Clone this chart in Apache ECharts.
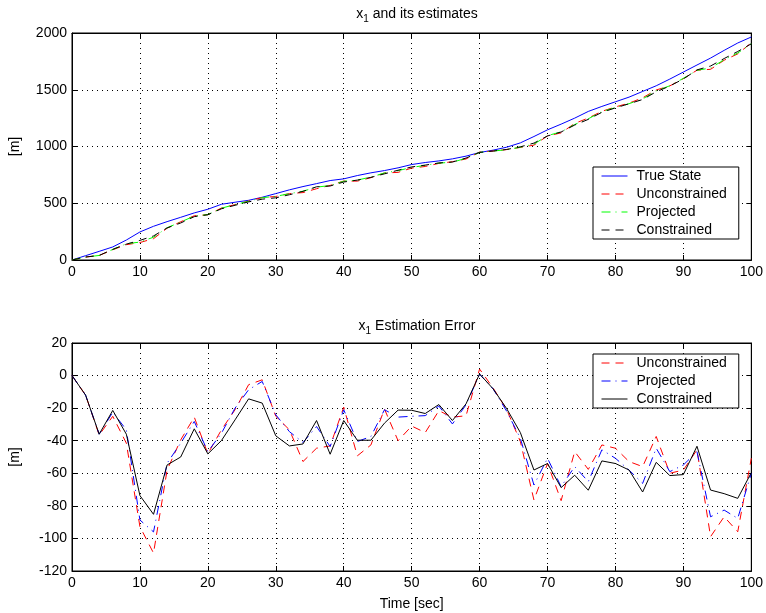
<!DOCTYPE html>
<html>
<head>
<meta charset="utf-8">
<title>x1 and its estimates</title>
<script src="https://cdn.jsdelivr.net/npm/echarts@6/dist/echarts.min.js"></script>
<style>
  html, body { margin: 0; padding: 0; background: #fff; }
  #chart { width: 766px; height: 613px; }
</style>
</head>
<body>
<div id="chart"></div>
<script>
// time stamps (sec)
const time = [0, 2, 4, 6, 8, 10, 12, 14, 16, 18, 20, 22, 24, 26, 28, 30, 32, 34, 36, 38, 40,
  42, 44, 46, 48, 50, 52, 54, 56, 58, 60, 62, 64, 66, 68, 70, 72, 74, 76, 78, 80,
  82, 84, 86, 88, 90, 92, 94, 96, 98, 100]

// top plot: x1 and its estimates [m]
const trueState = [0, 38, 76, 115, 176, 247, 297, 338, 376, 415, 447, 491, 509, 526, 553, 585, 618, 647, 673, 700, 715,
  744, 768, 788, 812, 841, 859, 873, 891, 915, 947, 968, 994, 1032, 1088, 1147, 1197, 1250, 1309, 1353, 1394,
  1435, 1485, 1535, 1594, 1656, 1718, 1779, 1847, 1912, 1965]
const unconstrained = [0, 26, 40, 90, 135, 154, 188, 280, 337, 390, 399, 458, 488, 520, 550, 560, 585, 594, 628, 657, 696,
  695, 725, 767, 772, 810, 824, 851, 866, 890, 951, 960, 973, 992, 1012, 1093, 1120, 1203, 1251, 1310, 1349,
  1382, 1429, 1498, 1534, 1598, 1672, 1680, 1760, 1816, 1914]
const projected = [0, 26, 40, 93, 143, 158, 201, 284, 335, 387, 400, 456, 489, 517, 549, 561, 584, 606, 642, 656, 694,
  704, 731, 767, 787, 816, 834, 854, 861, 897, 948, 960, 972, 994, 1021, 1096, 1129, 1194, 1244, 1307, 1343,
  1377, 1419, 1490, 1535, 1601, 1671, 1692, 1764, 1824, 1905]
const constrained = [0, 26, 40, 94, 140, 173, 212, 283, 326, 382, 399, 451, 482, 512, 536, 548, 575, 605, 645, 652, 687,
  704, 728, 759, 791, 820, 836, 855, 863, 898, 948, 960, 974, 997, 1030, 1093, 1128, 1189, 1239, 1301, 1340,
  1377, 1414, 1482, 1533, 1595, 1675, 1709, 1775, 1837, 1905]

// bottom plot: estimation error [m]
const errUnconstrained = [0, -12, -36.5, -25, -41.5, -92.8, -109, -58, -39.5, -25.5, -48, -33.3, -21, -5.6, -2.6, -25, -33.3, -52.8, -44.6, -43.2, -19.4,
  -49.3, -42.6, -20.6, -40, -31, -35, -21.6, -25.5, -24.7, 4, -7.7, -21, -40.5, -76.4, -54, -76.8, -46.7, -57.6, -42.6, -44.6,
  -52.8, -55.9, -37.4, -60, -58, -45.6, -98.9, -86.7, -95.9, -50.8]
const errProjected = [0, -12, -36, -22.5, -33.3, -88.7, -96, -53.8, -41.5, -28.2, -46.7, -35.4, -20, -8.7, -3.6, -24.1, -34.4, -41.1, -31.3, -43.6, -21,
  -40.5, -37.4, -21, -25.5, -25, -24.6, -18.7, -29.7, -18, 0.8, -8.2, -22, -38.5, -67.2, -50.8, -68.2, -55.9, -65.1, -45.6, -50.8,
  -58, -66.2, -44.6, -59, -54.9, -46.7, -86.7, -82.6, -87.7, -60]
const errConstrained = [0, -12, -36, -21.4, -36, -73.7, -85.2, -54.9, -50, -32.7, -48.1, -39.9, -27.2, -14.3, -16.9, -37, -43.2, -42, -27.6, -48.3, -27.6,
  -39.7, -39.7, -29.2, -21.2, -21.3, -23.3, -17.8, -27.6, -17.4, 1, -8.2, -20.4, -35, -58, -54, -68.8, -61.2, -70.4, -52.4, -54,
  -58, -71.5, -53.3, -61.4, -60.8, -43.4, -70.3, -72.5, -75.4, -59.6]

const FONT = 'Liberation Sans'
const FS = 14
const pairs = arr => time.map((t, i) => [t, arr[i]])

const chart = echarts.init(document.getElementById('chart'))

const gridLine = { show: true, lineStyle: { color: '#000', width: 1, type: [1, 4] } }
const axLine = { show: true, onZero: false, lineStyle: { color: '#000', width: 1 } }
const tick = { show: true, inside: true, length: 5, lineStyle: { color: '#000' } }
const lbl = { color: '#000', fontFamily: FONT, fontSize: FS }

function xAx(grid, pos, main) {
  return {
    type: 'value', gridIndex: grid, position: pos, min: 0, max: 100, interval: 10,
    axisLine: axLine, axisTick: tick,
    axisLabel: main ? Object.assign({ margin: 5 }, lbl) : { show: false },
    splitLine: main ? gridLine : { show: false }
  }
}
function yAx(grid, pos, main, min, max, step) {
  return {
    type: 'value', gridIndex: grid, position: pos, min: min, max: max, interval: step,
    axisLine: axLine, axisTick: tick,
    axisLabel: main ? Object.assign({ margin: 5, formatter: v => String(v) }, lbl) : { show: false },
    splitLine: main ? gridLine : { show: false },
    name: main ? '[m]' : '', nameLocation: 'middle', nameGap: 50, nameRotate: 90,
    nameTextStyle: { color: '#000', fontFamily: FONT, fontSize: FS }
  }
}

const titleRich = {
  a: { fontFamily: FONT, fontSize: FS, fontWeight: 'normal', color: '#000' },
  s: { fontFamily: FONT, fontSize: 10, fontWeight: 'normal', color: '#000', padding: [10, 0, 0, 0] }
}

function line(name, data, color, type, xi, yi) {
  return {
    name: name, type: 'line', xAxisIndex: xi, yAxisIndex: yi, data: pairs(data),
    showSymbol: false, symbol: 'none', animation: false,
    lineStyle: { color: color, width: 1, type: type }, itemStyle: { color: color }
  }
}

const dash = [8, 6]
const dashDot = [9, 5, 1, 5]

const legendBase = {
  orient: 'vertical', left: 593,
  backgroundColor: '#fff', borderColor: '#000', borderWidth: 1, padding: [2, 12, 2, 8],
  itemWidth: 26, itemHeight: 14, itemGap: 4,
  itemStyle: { opacity: 0 },
  textStyle: { color: '#000', fontFamily: FONT, fontSize: FS, lineHeight: 14, padding: [0, 0, 0, 4] },
  selectedMode: false
}

chart.setOption({
  backgroundColor: '#fff',
  animation: false,
  title: [
    { text: '{a|x}{s|1}{a| and its estimates}', left: 412, top: -1, textAlign: 'center', textStyle: { fontWeight: 'normal', rich: titleRich } },
    { text: '{a|x}{s|1}{a| Estimation Error}', left: 412, top: 311, textAlign: 'center', textStyle: { fontWeight: 'normal', rich: titleRich } }
  ],
  grid: [
    { left: 72, right: 13, top: 33, height: 227, show: true, borderColor: '#000', borderWidth: 1, backgroundColor: 'transparent' },
    { left: 72, right: 13, top: 343, height: 228, show: true, borderColor: '#000', borderWidth: 1, backgroundColor: 'transparent' }
  ],
  xAxis: [
    xAx(0, 'bottom', true), xAx(0, 'top', false),
    Object.assign(xAx(1, 'bottom', true), {
      name: 'Time [sec]', nameLocation: 'middle', nameGap: 26,
      nameTextStyle: { color: '#000', fontFamily: FONT, fontSize: FS }
    }),
    xAx(1, 'top', false)
  ],
  yAxis: [
    yAx(0, 'left', true, 0, 2000, 500), yAx(0, 'right', false, 0, 2000, 500),
    yAx(1, 'left', true, -120, 20, 20), yAx(1, 'right', false, -120, 20, 20)
  ],
  legend: [
    Object.assign({}, legendBase, {
      id: 'legTop', top: 167,
      data: [
        { name: 'True State', lineStyle: { color: '#0000ff', type: 'solid', width: 1 } },
        { name: 'Unconstrained', itemStyle: { color: '#ff0000', opacity: 0 }, lineStyle: { color: '#ff0000', type: dash, width: 1 } },
        { name: 'Projected', lineStyle: { color: '#00ff00', type: dashDot, width: 1 } },
        { name: 'Constrained', lineStyle: { color: '#000', type: dash, width: 1 } }
      ]
    }),
    Object.assign({}, legendBase, {
      id: 'legBottom', top: 354,
      data: [
        { name: 'Unconstrained', itemStyle: { color: '#ff0000', opacity: 0 }, lineStyle: { color: '#ff0000', type: dash, width: 1 } },
        { name: 'Projected', lineStyle: { color: '#0000ff', type: dashDot, width: 1 } },
        { name: 'Constrained', lineStyle: { color: '#000', type: 'solid', width: 1 } }
      ]
    })
  ],
  series: [
    line('True State', trueState, '#0000ff', 'solid', 0, 0),
    line('Unconstrained', unconstrained, '#ff0000', dash, 0, 0),
    line('Projected', projected, '#00ff00', dashDot, 0, 0),
    line('Constrained', constrained, '#000', dash, 0, 0),
    line('Unconstrained', errUnconstrained, '#ff0000', dash, 2, 2),
    line('Projected', errProjected, '#0000ff', dashDot, 2, 2),
    line('Constrained', errConstrained, '#000', 'solid', 2, 2)
  ]
})
</script>
</body>
</html>
